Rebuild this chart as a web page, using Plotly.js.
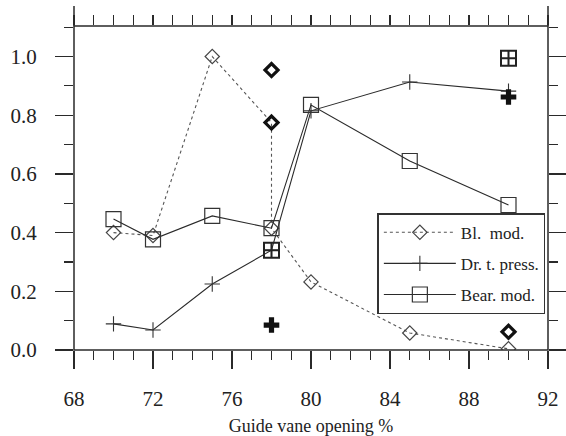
<!DOCTYPE html>
<html>
<head>
<meta charset="utf-8">
<script src="https://cdn.plot.ly/plotly-3.0.1.min.js"></script>
<style>html,body{margin:0;padding:0;background:#fff;}#chart{width:566px;height:436px;}</style>
</head>
<body>
<div id="chart"></div>
<script>
// ---- data ----
const seriesNames = ["Bl.\u00a0 mod.", "Dr. t. press.", "Bear. mod."];
const xBl   = [70, 72, 75, 78, 78, 80, 85, 90];
const yBl   = [0.400, 0.390, 1.000, 0.775, 0.415, 0.232, 0.058, 0.004];
const xDr   = [70, 72, 75, 78, 80, 85, 90];
const yDr   = [0.089, 0.068, 0.225, 0.340, 0.815, 0.913, 0.882];
const xBear = [70, 72, 75, 78, 80, 85, 90];
const yBear = [0.446, 0.377, 0.457, 0.415, 0.835, 0.644, 0.494];
// isolated (bold) points
const xBlIso   = [78, 78, 90];
const yBlIso   = [0.954, 0.775, 0.062];
const xDrIso   = [78, 90];
const yDrIso   = [0.085, 0.862];
const xBearIso = [78, 90];
const yBearIso = [0.340, 0.994];
const xTickVals = [68, 72, 76, 80, 84, 88, 92];
const yTickVals = [0.0, 0.2, 0.4, 0.6, 0.8, 1.0];

const ink = '#2a2a2a';
const serif = "'Liberation Serif', 'Times New Roman', Times, serif";

const traces = [
  {x: xBl, y: yBl, name: seriesNames[0], mode: 'lines+markers', legendgroup: 'a',
   line: {color: '#555', width: 1.1, dash: 'dot'},
   marker: {symbol: 'diamond-open', size: 11, color: '#444', line: {width: 1.2, color: '#444'}}},
  {x: xDr, y: yDr, name: seriesNames[1], mode: 'lines+markers', legendgroup: 'b',
   line: {color: ink, width: 1.1},
   marker: {symbol: 'cross-thin-open', size: 11, color: '#333', line: {width: 1.1, color: '#333'}}},
  {x: xBear, y: yBear, name: seriesNames[2], mode: 'lines+markers', legendgroup: 'c',
   line: {color: ink, width: 1.1},
   marker: {symbol: 'square-open', size: 15, color: '#333', line: {width: 1.2, color: '#333'}}},
  {x: xBlIso, y: yBlIso, mode: 'markers', showlegend: false,
   marker: {symbol: 'diamond-open', size: 10, color: '#111', line: {width: 3.2, color: '#111'}}},
  {x: xDrIso, y: yDrIso, mode: 'markers', showlegend: false,
   marker: {symbol: 'cross', size: 13, color: '#111', line: {width: 0}}},
  {x: xBearIso, y: yBearIso, mode: 'markers', showlegend: false,
   marker: {symbol: 'square-cross-open', size: 15, color: '#222', line: {width: 2, color: '#222'}}},
  {x: xBear, y: yBear, xaxis: 'x2', mode: 'none', showlegend: false, hoverinfo: 'skip'}
];

const layout = {
  width: 566, height: 436,
  margin: {l: 74, r: 18, t: 26, b: 86},
  paper_bgcolor: '#fff', plot_bgcolor: '#fff',
  font: {family: serif, color: '#222', size: 21},
  showlegend: true,
  xaxis: {
    range: [68, 92], tickvals: xTickVals, ticktext: xTickVals.map(String),
    ticks: 'outside', ticklen: 18, tickwidth: 1.2, tickcolor: ink,
    minor: {dtick: 1, tick0: 68, ticks: 'outside', ticklen: 9, tickwidth: 1.2, tickcolor: ink, showgrid: false},
    showgrid: false, zeroline: false, showline: false,
    ticklabelstandoff: 12,
    tickfont: {family: serif, size: 21, color: '#222'},
    title: {text: 'Guide vane opening %', font: {family: serif, size: 18, color: '#222'}, standoff: 9}
  },
  xaxis2: {
    overlaying: 'x', side: 'top', anchor: 'y', range: [68, 92],
    dtick: 1, tick0: 68, ticks: 'outside', ticklen: 10, tickwidth: 1.2, tickcolor: ink,
    showticklabels: false, showgrid: false, zeroline: false, showline: false
  },
  yaxis: {
    range: [0, 1.104], tickvals: yTickVals, tickformat: '.1f',
    ticks: 'outside', ticklen: 18, tickwidth: 1.2, tickcolor: ink, mirror: 'ticks',
    minor: {dtick: 0.1, tick0: 0, ticks: 'outside', ticklen: 9, tickwidth: 1.2, tickcolor: ink, showgrid: false},
    showgrid: false, zeroline: false, showline: false,
    ticklabelstandoff: 14,
    tickfont: {family: serif, size: 21, color: '#222'}
  },
  legend: {
    x: 0.64, y: 0.422, xanchor: 'left', yanchor: 'top',
    bgcolor: '#fff', bordercolor: '#333', borderwidth: 1.5,
    font: {family: serif, size: 17, color: '#222'},
    itemwidth: 72, tracegroupgap: 6, traceorder: 'grouped'
  },
  shapes: [
    {type: 'rect', xref: 'paper', yref: 'paper', x0: 0, x1: 1, y0: 0, y1: 1,
     line: {color: ink, width: 1.5}, layer: 'above'},
    {type: 'line', xref: 'paper', yref: 'paper', x0: 0, x1: 0, y0: 1, y1: 1 + 20/324,
     line: {color: ink, width: 1.5}},
    {type: 'line', xref: 'paper', yref: 'paper', x0: 1, x1: 1, y0: 1, y1: 1 + 20/324,
     line: {color: ink, width: 1.5}}
  ]
};

Plotly.newPlot('chart', traces, layout, {staticPlot: true, displayModeBar: false});
</script>
</body>
</html>
